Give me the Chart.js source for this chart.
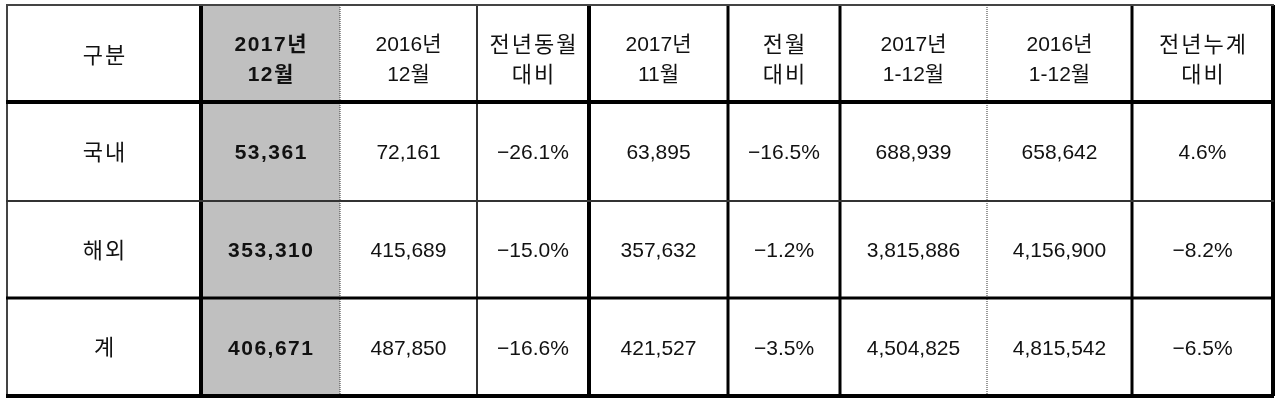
<!DOCTYPE html>
<html>
<head>
<meta charset="utf-8">
<script src="https://cdn.jsdelivr.net/npm/chart.js@4"></script>
<style>
  html, body { margin: 0; padding: 0; background: #fff; }
  .wrap { width: 1280px; height: 401px; position: relative; }
</style>
</head>
<body>
<div class="wrap"><canvas class="sales_table"></canvas></div>
<script>
// table data
const header_labels = [
  ['구분'], ['2017년', '12월'], ['2016년', '12월'], ['전년동월', '대비'],
  ['2017년', '11월'], ['전월', '대비'], ['2017년', '1-12월'],
  ['2016년', '1-12월'], ['전년누계', '대비']
];
const row_labels = ['국내', '해외', '계'];
const dec_2017 = [53361, 353310, 406671];
const dec_2016 = [72161, 415689, 487850];
const yoy_month = [-26.1, -15.0, -16.6];
const nov_2017 = [63895, 357632, 421527];
const mom_change = [-16.5, -1.2, -3.5];
const ytd_2017 = [688939, 3815886, 4504825];
const ytd_2016 = [658642, 4156900, 4815542];
const ytd_change = [4.6, -8.2, -6.5];

// layout (scale units)
const col_edges = [7, 201, 340, 477, 589, 728, 840, 987, 1132, 1273];
const row_edges = [5, 102, 201, 298, 396];
const col_lines = [
  { w: 2, c: '#444' }, { w: 4, c: '#000' }, { w: 1, c: '#333', dash: [1, 1] },
  { w: 2, c: '#333' }, { w: 4, c: '#000' }, { w: 3, c: '#000' },
  { w: 3, c: '#000' }, { w: 1, c: '#333', dash: [1, 1] }, { w: 3, c: '#000' },
  { w: 4, c: '#000' }
];
const row_lines = [
  { w: 2, c: '#444' }, { w: 4, c: '#000' }, { w: 2, c: '#333' },
  { w: 3, c: '#000' }, { w: 4, c: '#000' }
];
const highlight_col = 1;

function fmt_num (v) {
  return v.toLocaleString('en-US');
}
function fmt_pct (v) {
  return (v < 0 ? '\u2212' : '') + Math.abs(v).toFixed(1) + '%';
}

const body_cols = [
  row_labels,
  dec_2017.map(fmt_num),
  dec_2016.map(fmt_num),
  yoy_month.map(fmt_pct),
  nov_2017.map(fmt_num),
  mom_change.map(fmt_pct),
  ytd_2017.map(fmt_num),
  ytd_2016.map(fmt_num),
  ytd_change.map(fmt_pct)
];

const FONT = '"Liberation Sans", "Noto Sans CJK KR", sans-serif';
const is_hangul = s => /^[\uac00-\ud7a3]+$/.test(s);

function draw_text (ctx, txt, cx, cy, bold) {
  let size = 21;
  let sp = 0;
  if (is_hangul(txt)) {
    size = 22;
    sp = 2;
  } else if (bold) {
    sp = 1.5;
  }
  ctx.font = (bold ? 'bold ' : '') + size + 'px ' + FONT;
  ctx.letterSpacing = sp + 'px';
  // letterSpacing adds trailing space, shift to keep centred
  ctx.fillText(txt, cx + sp / 2, cy);
}

const tablePlugin = {
  id: 'tablePlugin',
  beforeDatasetsDraw (chart) {
    const ctx = chart.ctx;
    const x = chart.scales.x;
    const y = chart.scales.y;
    const px = v => x.getPixelForValue(v);
    const py = v => y.getPixelForValue(v);

    ctx.save();
    // highlighted column
    ctx.fillStyle = '#c0c0c0';
    ctx.fillRect(px(col_edges[highlight_col]), py(row_edges[0]),
      px(col_edges[highlight_col + 1]) - px(col_edges[highlight_col]),
      py(row_edges[row_edges.length - 1]) - py(row_edges[0]));

    // text
    ctx.fillStyle = '#111';
    ctx.textAlign = 'center';
    ctx.textBaseline = 'middle';
    for (let c = 0; c < header_labels.length; c++) {
      const cx = (px(col_edges[c]) + px(col_edges[c + 1])) / 2;
      const cy = (py(row_edges[0]) + py(row_edges[1])) / 2;
      const lines = header_labels[c];
      const lh = 30;
      for (let i = 0; i < lines.length; i++) {
        const off = (i - (lines.length - 1) / 2) * lh;
        draw_text(ctx, lines[i], cx, cy + off + (lines.length === 1 ? 3 : 7), c === highlight_col);
      }
    }
    for (let c = 0; c < body_cols.length; c++) {
      const cx = (px(col_edges[c]) + px(col_edges[c + 1])) / 2;
      for (let r = 0; r < body_cols[c].length; r++) {
        const cy = (py(row_edges[r + 1]) + py(row_edges[r + 2])) / 2;
        draw_text(ctx, body_cols[c][r], cx, cy + 2, c === highlight_col);
      }
    }
    ctx.letterSpacing = '0px';

    // grid lines
    const top = py(row_edges[0]);
    const bottom = py(row_edges[row_edges.length - 1]);
    const left = px(col_edges[0]);
    const right = px(col_edges[col_edges.length - 1]);
    for (let i = 0; i < col_edges.length; i++) {
      const s = col_lines[i];
      ctx.beginPath();
      ctx.lineWidth = s.w;
      ctx.strokeStyle = s.c;
      ctx.setLineDash(s.dash || []);
      ctx.moveTo(px(col_edges[i]), top);
      ctx.lineTo(px(col_edges[i]), bottom);
      ctx.stroke();
    }
    ctx.setLineDash([]);
    for (let i = 0; i < row_edges.length; i++) {
      const s = row_lines[i];
      ctx.beginPath();
      ctx.lineWidth = s.w;
      ctx.strokeStyle = s.c;
      ctx.moveTo(left - 1, py(row_edges[i]));
      ctx.lineTo(right + 1, py(row_edges[i]));
      ctx.stroke();
    }
    ctx.restore();
  }
};

const table_ctx = document.querySelector('.sales_table').getContext('2d');
const table_chart = new Chart(table_ctx, {
  type: 'scatter',
  data: { datasets: [{ data: [], pointRadius: 0 }] },
  options: {
    responsive: true,
    maintainAspectRatio: false,
    animation: false,
    events: [],
    layout: { padding: 0 },
    plugins: { legend: { display: false }, tooltip: { enabled: false } },
    scales: {
      x: { type: 'linear', min: 0, max: 1280, display: false },
      y: { type: 'linear', min: 0, max: 401, reverse: true, display: false }
    }
  },
  plugins: [tablePlugin]
});
</script>
</body>
</html>
